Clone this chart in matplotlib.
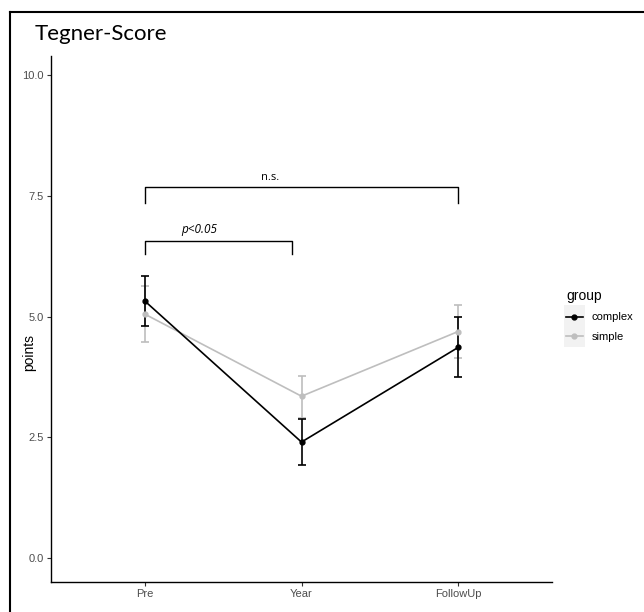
#!/usr/bin/env python3
"""Tegner-Score by time point and group, mean with error bars."""
import matplotlib.pyplot as plt
from matplotlib.lines import Line2D
from matplotlib.patches import Rectangle

timepoints = ["Pre", "Year", "FollowUp"]
groups = ["complex", "simple"]
colors = {"complex": "#000000", "simple": "#BEBEBE"}

complex_mean = [5.32, 2.40, 4.36]
complex_lo = [4.81, 1.92, 3.75]
complex_hi = [5.84, 2.88, 5.00]

simple_mean = [5.05, 3.35, 4.69]
simple_lo = [4.47, 2.90, 4.15]
simple_hi = [5.63, 3.77, 5.24]

yticks = [0.0, 2.5, 5.0, 7.5, 10.0]


def main() -> None:
    fig = plt.figure(figsize=(6.44, 6.12), dpi=100)
    ax = fig.add_axes([51 / 644, 30 / 612, 501 / 644, 526 / 612])

    x = list(range(len(timepoints)))
    series = {
        "simple": (simple_mean, simple_lo, simple_hi),
        "complex": (complex_mean, complex_lo, complex_hi),
    }
    for g in ["simple", "complex"]:
        mean, lo, hi = series[g]
        err = [[m - l for m, l in zip(mean, lo)], [h - m for m, h in zip(mean, hi)]]
        ax.errorbar(x, mean, yerr=err, color=colors[g], lw=1.2, elinewidth=1.2,
                    capsize=3.2, capthick=1.2, marker="o", ms=3.5, zorder=3)

    # significance brackets
    bk = dict(color="black", lw=1.0)
    ax.plot([0, 0, 2, 2], [7.35, 7.69, 7.69, 7.35], **bk)
    ax.text(0.80, 7.76, "n.s.", ha="center", va="bottom", fontsize=8,
            family="Open Sans")
    ax.plot([0, 0, 0.94, 0.94], [6.29, 6.57, 6.57, 6.29], **bk)
    ax.text(0.35, 6.66, "p<0.05", ha="center", va="bottom", fontsize=8.5,
            style="italic", family="Open Sans")

    ax.set_xlim(-0.6, 2.6)
    ax.set_ylim(-0.5, 10.4)
    ax.set_xticks(x)
    ax.set_xticklabels(timepoints)
    ax.set_yticks(yticks)
    ax.set_yticklabels([f"{v:.1f}" for v in yticks])
    ax.tick_params(colors="#333333", labelcolor="#4D4D4D", labelsize=8,
                   length=3, width=0.8, pad=2)
    for lab in ax.get_xticklabels() + ax.get_yticklabels():
        lab.set_family("Liberation Sans")
    for s in ["top", "right"]:
        ax.spines[s].set_visible(False)
    for s in ["left", "bottom"]:
        ax.spines[s].set_linewidth(1.0)
    ax.set_ylabel("points", fontsize=10, family="Liberation Sans")
    ax.yaxis.set_label_coords(-0.03, 0.437)

    fig.text(35 / 644, 1 - 34 / 612, "Tegner-Score", fontsize=16,
             family="Lato", ha="left", va="center")

    # light grey legend key background
    fig.add_artist(Rectangle((564 / 644, 1 - 347 / 612), 21 / 644, 42 / 612,
                             transform=fig.transFigure, color="#F2F2F2", lw=0,
                             zorder=0))
    handles = [Line2D([], [], color=colors[g], lw=1.2, marker="o", ms=3.5)
               for g in groups]
    leg = fig.legend(handles, groups, title="group", loc="upper left",
                     bbox_to_anchor=(556 / 644, 1 - 279 / 612), frameon=False,
                     prop={"family": "Liberation Sans", "size": 8},
                     handlelength=1.5, handletextpad=0.8, labelspacing=0.85)
    leg.get_title().set_family("Liberation Sans")
    leg.get_title().set_fontsize(10)
    leg._legend_box.align = "left"

    # frame lines around the pasted figure
    fig.add_artist(Line2D([10 / 644, 10 / 644], [0, 1 - 12 / 612],
                          transform=fig.transFigure, color="black", lw=1.5))
    fig.add_artist(Line2D([10 / 644, 1], [1 - 12 / 612, 1 - 12 / 612],
                          transform=fig.transFigure, color="black", lw=1.5))

    fig.savefig("out.png", dpi=100)
    plt.close(fig)


if __name__ == "__main__":
    main()
